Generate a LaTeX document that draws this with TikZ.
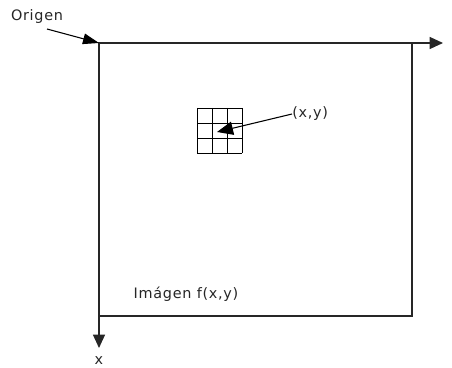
\documentclass[tikz,border=0pt]{standalone}
\usepackage{fontspec}
\setmainfont{DejaVu Sans}
\newfontfamily\labelfont[LetterSpace=5]{DejaVu Sans}
\usetikzlibrary{arrows.meta}

\begin{document}
\begin{tikzpicture}[x=0.75pt,y=-0.75pt,
  axis/.style={line width=0.9pt, black!85, -{Triangle[length=10pt,width=9pt]}},
  pointer/.style={line width=0.8pt, -{Triangle[length=12pt,width=10pt]}},
  lbl/.style={font=\labelfont\fontsize{10.8}{12}\selectfont, inner sep=0pt, black!85}]
\useasboundingbox (0,0) rectangle (452,367);

\coordinate (origin) at (99,43);
\coordinate (yend) at (443,43);
\coordinate (xend) at (99,348);

% image frame and axes
\draw[line width=0.9pt, black!85] (origin) rectangle (412,316);
\draw[axis] (origin) -- (yend);
\draw[axis] (origin) -- (xend);
\node[lbl] (xlab) at (99,361) {x};

% neighbourhood around the pixel
\foreach \i in {0,...,3} {
  \draw[line width=0.7pt] (197+\i*15,108) -- (197+\i*15,153);
  \draw[line width=0.7pt] (197,108+\i*15) -- (242,108+\i*15);
}
\coordinate (pixel) at (217,132);
\node[lbl, anchor=west] (ptlab) at (292,114) {(x,y)};
\draw[pointer] (ptlab.west) -- (pixel);

% origin label
\node[lbl] (origlab) at (37,17) {Origen};
\coordinate (origtail) at (47,29);
\draw[pointer, -{Triangle[length=12pt,width=8pt]}] (origtail) -- (origin);

\node[lbl] (imglab) at (186,294) {Imágen f(x,y)};
\end{tikzpicture}
\end{document}
